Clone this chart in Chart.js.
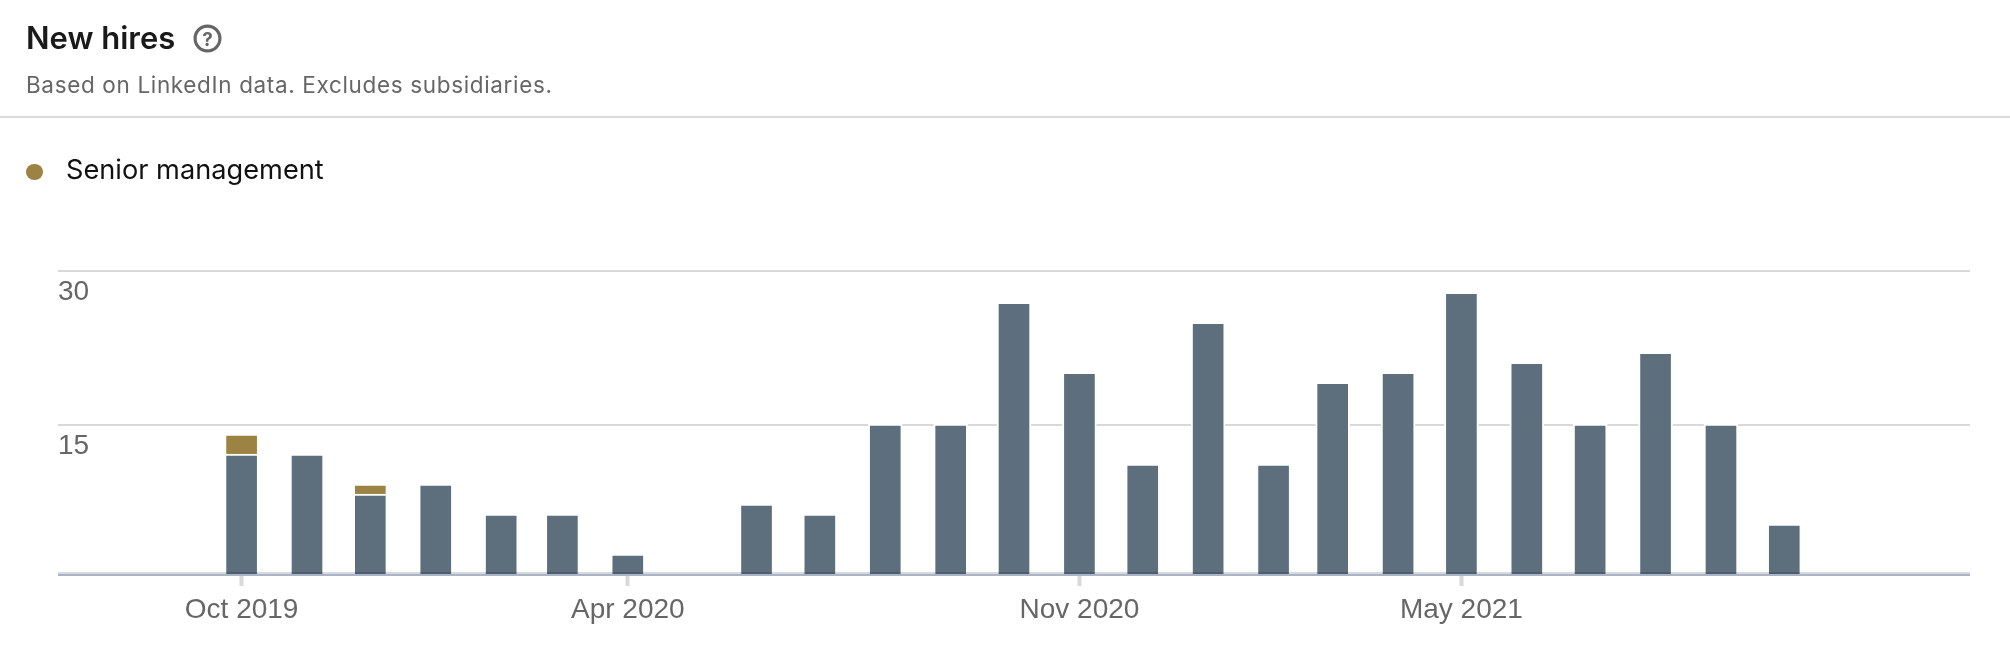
<!DOCTYPE html>
<html>
<head>
<meta charset="utf-8">
<script src="https://cdn.jsdelivr.net/npm/chart.js@4"></script>
<style>
html,body{margin:0;padding:0;background:#fff;width:2010px;height:668px;overflow:hidden}
body{position:relative;font-family:Inter,"Liberation Sans",sans-serif}
#title{position:absolute;left:26px;top:20px;font:600 31px/36px Inter,sans-serif;color:#1a1a1a}
#icon{position:absolute;left:193px;top:24px}
#sub{position:absolute;left:26px;top:71px;font:400 22.5px/28px Inter,sans-serif;letter-spacing:0.65px;color:#666}
#rule{position:absolute;left:0;top:116px;width:2010px;height:2px;background:#d9d9d9}
#dot{position:absolute;left:26px;top:164px;width:16.5px;height:16px;border-radius:50%;background:#9c8243}
#leg{position:absolute;left:66px;top:153px;font:400 27.2px/34px Inter,sans-serif;color:#111}
#wrap{position:absolute;left:0;top:0;width:2010px;height:668px}
</style>
</head>
<body>
<div id="wrap"><canvas id="c" width="2010" height="668"></canvas></div>
<div id="title">New hires</div>
<svg id="icon" width="29" height="29" viewBox="0 0 29 29"><circle cx="14.5" cy="14.5" r="12.4" fill="none" stroke="#666" stroke-width="3.2"/><text x="14.5" y="21.5" text-anchor="middle" font-family="Inter" font-weight="700" font-size="19" fill="#666">?</text></svg>
<div id="sub">Based on LinkedIn data. Excludes subsidiaries.</div>
<div id="rule"></div>
<div id="dot"></div>
<div id="leg">Senior management</div>
<script>
const months = ['2019-10','2019-11','2019-12','2020-01','2020-02','2020-03','2020-04','2020-05','2020-06','2020-07','2020-08','2020-09','2020-10','2020-11','2020-12','2021-01','2021-02','2021-03','2021-04','2021-05','2021-06','2021-07','2021-08','2021-09','2021-10'];
const otherHires = [12,12,8,9,6,6,2,0,7,6,15,15,27,20,11,25,11,19,20,28,21,15,22,15,5];
const seniorHires = [2,0,1,0,0,0,0,0,0,0,0,0,0,0,0,0,0,0,0,0,0,0,0,0,0];
const xTickMonths = ['2019-10','2020-04','2020-11','2021-05'];
const xTickLabels = ['Oct 2019','Apr 2020','Nov 2020','May 2021'];
const yGridValues = [14.9,30.3];
const yTickLabels = ['15','30'];
const yBaseValues = [-0.1,0.1];
const yBaseColors = ['#aab4c8','rgba(0,0,0,0.15)'];

const dayOf = m => { const [y,mo] = m.split('-').map(Number); return Date.UTC(y,mo-1,1)/864e5; };
const xs = months.map(dayOf);
const toPoints = vals => vals.map((v,i)=>({x:xs[i],y:v}));
const barBorder = ctx => ({top: ctx.raw && ctx.raw.y > 15 ? 0 : 2, left:2, right:2, bottom:0});
const barStyle = {borderColor:'#ffffff',borderWidth:barBorder,borderSkipped:false,barThickness:34,stack:'a',xAxisID:'x',yAxisID:'y'};

new Chart(document.getElementById('c'),{
  type:'bar',
  data:{datasets:[
    Object.assign({label:'Other',data:toPoints(otherHires),backgroundColor:'#5d6f7d'},barStyle),
    Object.assign({label:'Senior management',data:toPoints(seniorHires),backgroundColor:'#9c8243'},barStyle)
  ]},
  options:{
    responsive:false,animation:false,
    layout:{padding:{left:58,right:40,top:271,bottom:0}},
    plugins:{legend:{display:false},title:{display:false},tooltip:{enabled:false}},
    scales:{
      x:{
        type:'linear',stacked:true,offset:false,
        min:xs[0]-87,max:xs[xs.length-1]+88,
        afterBuildTicks:s=>{s.ticks=xTickMonths.map(m=>({value:dayOf(m)}));},
        afterFit:s=>{s.height=94;},
        grid:{offset:false,drawOnChartArea:false,drawTicks:true,tickLength:12,tickWidth:4,tickColor:'#d9d9d9'},
        border:{display:false},
        ticks:{
          autoSkip:false,maxRotation:0,padding:7,color:'#666',
          font:{family:'"Liberation Sans"',size:28,lineHeight:1.2},
          callback:v=>xTickLabels[xTickMonths.map(dayOf).indexOf(v)]
        }
      },
      y:{
        type:'linear',stacked:true,min:0,max:30.3,
        afterBuildTicks:s=>{s.ticks=yGridValues.map(v=>({value:v}));},
        afterFit:s=>{s.width=0;},
        grid:{color:'#d9d9d9',lineWidth:2,drawTicks:false},
        border:{display:false},
        ticks:{
          mirror:true,padding:0,color:'#666',
          font:{family:'"Liberation Sans"',size:28,lineHeight:1.5},
          callback:v=>['',yTickLabels[yGridValues.indexOf(v)]]
        }
      },
      yBase:{
        type:'linear',position:'left',min:0,max:30.3,
        afterBuildTicks:s=>{s.ticks=yBaseValues.map(v=>({value:v}));},
        afterFit:s=>{s.width=0;},
        grid:{color:ctx=>yBaseColors[ctx.index],lineWidth:2,drawTicks:false,z:1},
        border:{display:false},
        ticks:{display:false}
      }
    }
  }
});
</script>
</body>
</html>
